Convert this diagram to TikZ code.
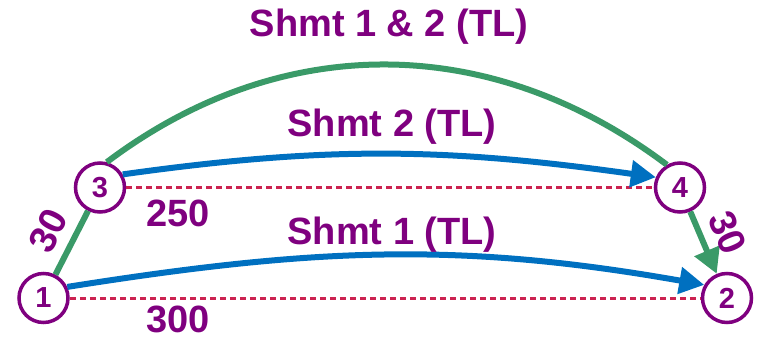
\documentclass[tikz,border=0pt]{standalone}
\usepackage{fontspec}
\setmainfont{Liberation Sans}
\usetikzlibrary{arrows.meta}
\definecolor{shpurple}{HTML}{7F007F}
\definecolor{legblue}{HTML}{0070C0}
\definecolor{leggreen}{HTML}{3A9A68}
\definecolor{gapred}{HTML}{CC2250}

\begin{document}
\begin{tikzpicture}[x=1pt,y=1pt,
  stopnode/.style={circle,draw=shpurple,line width=3.5pt,minimum size=49pt,inner sep=0pt,
    fill=white,text=shpurple,font=\fontsize{29}{29}\selectfont\bfseries},
  lbl/.style={text=shpurple,inner sep=0pt,font=\fontsize{38}{38}\selectfont\bfseries},
  leg/.style={line width=6pt,-{Triangle[width=26pt,length=25pt]}},
  distline/.style={gapred,line width=3pt,dash pattern=on 6pt off 4pt}]
  \useasboundingbox (0,0) rectangle (761,338);
  % stops
  \node[stopnode] (n1) at (43.5,40) {1};
  \node[stopnode] (n2) at (727,40) {2};
  \node[stopnode] (n3) at (100,150.5) {3};
  \node[stopnode] (n4) at (680,150.5) {4};
  % distances
  \draw[distline] (n1) -- (n2);
  \draw[distline] (n3) -- (n4);
  \node[lbl] (d34) at (178,125) {250};
  \node[lbl] (d12) at (178,19) {300};
  % legs
  \draw[leggreen,line width=6pt] (n1) -- node[lbl,sloped,above=10pt] {30} (n3);
  \draw[leggreen,line width=6pt] (n3.75) to[out=37,in=143] (n4.120);
  \draw[leg,leggreen] (n4) -- node[lbl,sloped,above=10pt] {30} (n2);
  \draw[leg,legblue] (n3.30) to[out=8,in=172] (n4.157);
  \draw[leg,legblue] (n1.25) to[out=9,in=170] (n2.150);
  \node[lbl] (t12) at (389,311) {Shmt 1 \& 2 (TL)};
  \node[lbl] (t2) at (392,211) {Shmt 2 (TL)};
  \node[lbl] (t1) at (392,103) {Shmt 1 (TL)};
\end{tikzpicture}
\end{document}
